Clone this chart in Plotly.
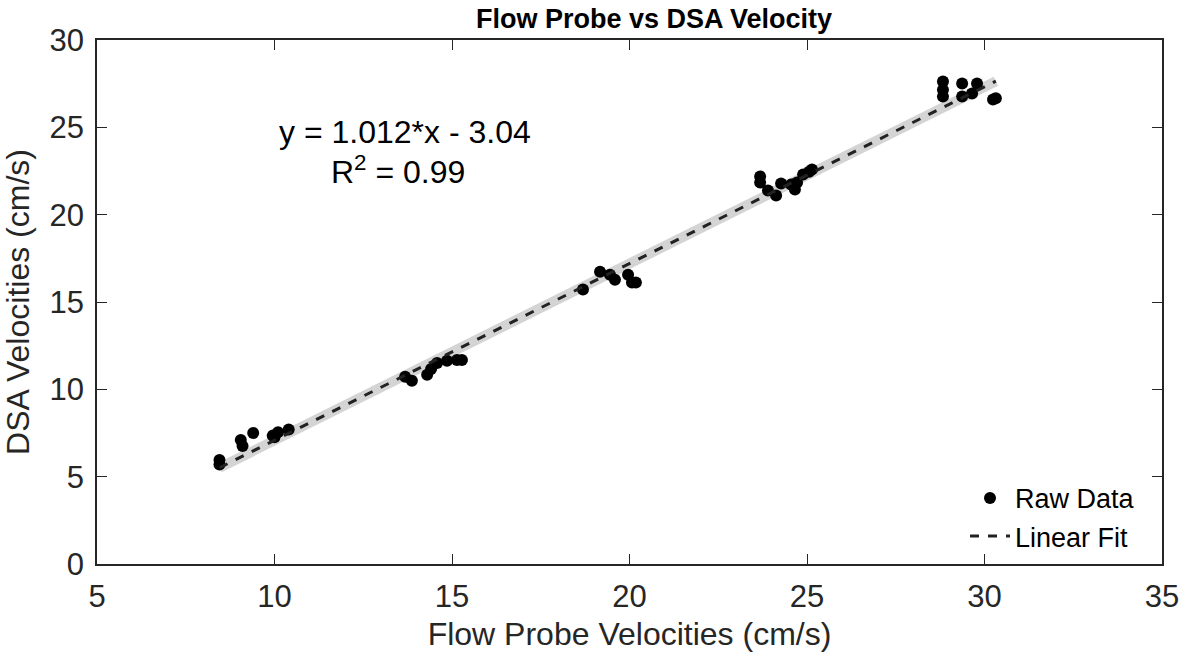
import plotly.graph_objects as go

# Raw data
flow_probe = [8.45, 8.45, 9.05, 9.1, 9.4, 9.95, 10.0, 10.1, 10.4,
              13.68, 13.87, 14.3, 14.41, 14.58, 14.86, 15.14, 15.28,
              18.69, 19.17, 19.45, 19.59, 19.96, 20.07, 20.18,
              23.68, 23.68, 23.9, 24.13, 24.27, 24.55, 24.66, 24.72, 24.89, 25.06, 25.14,
              28.83, 28.83, 28.83, 29.37, 29.37, 29.79, 29.65, 30.24, 30.32]
dsa = [5.95, 5.7, 7.1, 6.75, 7.5, 7.35, 7.25, 7.55, 7.7,
       10.72, 10.49, 10.83, 11.17, 11.51, 11.63, 11.68, 11.68,
       15.71, 16.73, 16.56, 16.28, 16.56, 16.11, 16.11,
       22.18, 21.84, 21.38, 21.1, 21.78, 21.72, 21.44, 21.84, 22.3, 22.46, 22.58,
       27.62, 26.77, 27.15, 27.51, 26.77, 27.51, 26.94, 26.6, 26.66]

slope = 1.012
intercept = -3.04
fit_x = [min(flow_probe), max(flow_probe)]
fit_y = [slope * v + intercept for v in fit_x]

font_family = "Liberation Sans, Arial, sans-serif"

fig = go.Figure()
fig.add_trace(go.Scatter(x=fit_x, y=fit_y, mode="lines",
                         line=dict(color="#d4d4d4", width=10),
                         showlegend=False, hoverinfo="skip"))
fig.add_trace(go.Scatter(x=flow_probe, y=dsa, mode="markers", name="Raw Data",
                         marker=dict(color="black", size=12)))
fig.add_trace(go.Scatter(x=fit_x, y=fit_y, mode="lines", name="Linear Fit",
                         line=dict(color="#222222", width=3, dash="dash")))

axis_common = dict(showline=True, linecolor="#262626", linewidth=1.5, mirror="ticks",
                   ticks="inside", ticklen=10, tickcolor="#262626", showgrid=False,
                   zeroline=False, automargin=False,
                   tickfont=dict(size=31, color="#262626", family=font_family))

L, R, T, B = 97, 19, 40, 95
PW, PH = 1181 - L - R, 659 - T - B

fig.update_layout(
    width=1181, height=659,
    margin=dict(l=L, r=R, t=T, b=B),
    paper_bgcolor="white", plot_bgcolor="white",
    title=dict(text="<b>Flow Probe vs DSA Velocity</b>", x=654 / 1181, xanchor="center",
               y=1 - 19 / 659, yanchor="middle",
               font=dict(size=27, color="black", family=font_family)),
    xaxis=dict(range=[5, 35], tickvals=[5, 10, 15, 20, 25, 30, 35], ticklabelstandoff=4,
               title=dict(text="Flow Probe Velocities (cm/s)", standoff=10,
                          font=dict(size=32, color="#262626", family=font_family)),
               **axis_common),
    yaxis=dict(range=[0, 30], tickvals=[0, 5, 10, 15, 20, 25, 30], ticklabelstandoff=5,
               title=dict(text="DSA Velocities (cm/s)", standoff=12,
                          font=dict(size=32, color="#262626", family=font_family)),
               **axis_common),
    legend=dict(x=(1140 - L) / PW, y=0.006, xanchor="right", yanchor="bottom",
                bgcolor="rgba(255,255,255,0)", font=dict(size=27, color="black", family=font_family),
                itemwidth=40, tracegroupgap=0),
    annotations=[
        dict(x=(405 - L) / PW, y=(659 - B - 132) / PH, xref="paper", yref="paper",
             xanchor="center", yanchor="middle", text="y = 1.012*x - 3.04", showarrow=False,
             font=dict(size=32, color="black", family=font_family)),
        dict(x=(398 - L) / PW, y=(659 - B - 170) / PH, xref="paper", yref="paper",
             xanchor="center", yanchor="middle", text="R<sup>2</sup> = 0.99", showarrow=False,
             font=dict(size=32, color="black", family=font_family)),
    ],
)

fig.write_html("out.html", config={"displayModeBar": False},
               post_script="document.body.style.margin='0';")
